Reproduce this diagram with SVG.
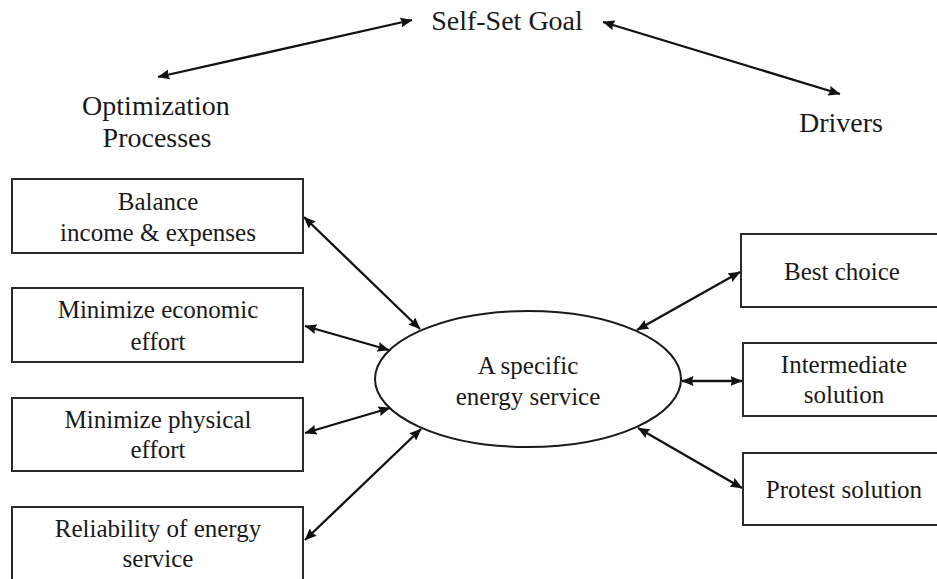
<svg xmlns="http://www.w3.org/2000/svg" width="937" height="579" viewBox="0 0 937 579">
  <style>
    .box { fill: #fff; stroke: #2a2a2a; stroke-width: 2; }
    .ell { fill: #fff; stroke: #1a1a1a; stroke-width: 2; }
    .t { font-size: 25px; fill: #1a1a1a; text-anchor: middle; }
    .h { font-size: 28px; fill: #1a1a1a; text-anchor: middle; }
    .c { stroke: #111; stroke-width: 2.3; fill: none; marker-start: url(#ah); marker-end: url(#ah); }
  </style>
  <defs>
    <marker id="ah" viewBox="0 0 12 10" refX="11.5" refY="5" markerWidth="12" markerHeight="10" markerUnits="userSpaceOnUse" orient="auto-start-reverse">
      <path d="M0,0 L12,5 L0,10 L1.5,5 z" fill="#111"/>
    </marker>
  </defs>

  <g font-family="Liberation Serif, DejaVu Serif, serif">
  <!-- headings -->
  <g id="goal"><text class="h" x="507" y="30">Self-Set Goal</text></g>
  <g id="optimization"><text class="h" x="156" y="115">Optimization</text><text class="h" x="157" y="147">Processes</text></g>
  <g id="drivers"><text class="h" x="841" y="132">Drivers</text></g>

  <!-- optimization process boxes -->
  <g id="balance">
    <rect class="box" x="12" y="179" width="291" height="74"/>
    <text class="t" x="158" y="210">Balance</text>
    <text class="t" x="158" y="241">income &amp; expenses</text>
  </g>
  <g id="economic">
    <rect class="box" x="12" y="288" width="291" height="74"/>
    <text class="t" x="158" y="318">Minimize economic</text>
    <text class="t" x="158" y="350">effort</text>
  </g>
  <g id="physical">
    <rect class="box" x="12" y="398" width="291" height="73"/>
    <text class="t" x="158" y="428">Minimize physical</text>
    <text class="t" x="158" y="458">effort</text>
  </g>
  <g id="reliability">
    <rect class="box" x="12" y="507" width="291" height="80"/>
    <text class="t" x="158" y="537">Reliability of energy</text>
    <text class="t" x="158" y="567">service</text>
  </g>

  <!-- central service -->
  <g id="service">
    <ellipse class="ell" cx="528" cy="379" rx="153" ry="68"/>
    <text class="t" x="528" y="374">A specific</text>
    <text class="t" x="528" y="405">energy service</text>
  </g>

  <!-- driver boxes -->
  <g id="best">
    <rect class="box" x="741" y="234" width="210" height="73"/>
    <text class="t" x="842" y="280">Best choice</text>
  </g>
  <g id="intermediate">
    <rect class="box" x="743" y="343" width="210" height="73"/>
    <text class="t" x="844" y="373">Intermediate</text>
    <text class="t" x="844" y="403">solution</text>
  </g>
  <g id="protest">
    <rect class="box" x="743" y="453" width="210" height="72"/>
    <text class="t" x="844" y="498">Protest solution</text>
  </g>
  </g>

  <!-- connectors -->
  <g id="connectors">
    <line class="c" x1="158" y1="77" x2="412" y2="20"/>
    <line class="c" x1="603" y1="22" x2="840" y2="94"/>
    <line class="c" x1="304" y1="217" x2="420" y2="329"/>
    <line class="c" x1="305" y1="326" x2="389" y2="350"/>
    <line class="c" x1="305" y1="433" x2="390" y2="408"/>
    <line class="c" x1="305" y1="540" x2="421" y2="429"/>
    <line class="c" x1="637" y1="330" x2="740" y2="272"/>
    <line class="c" x1="682" y1="381" x2="742" y2="381"/>
    <line class="c" x1="638" y1="428" x2="742" y2="488"/>
  </g>
</svg>
